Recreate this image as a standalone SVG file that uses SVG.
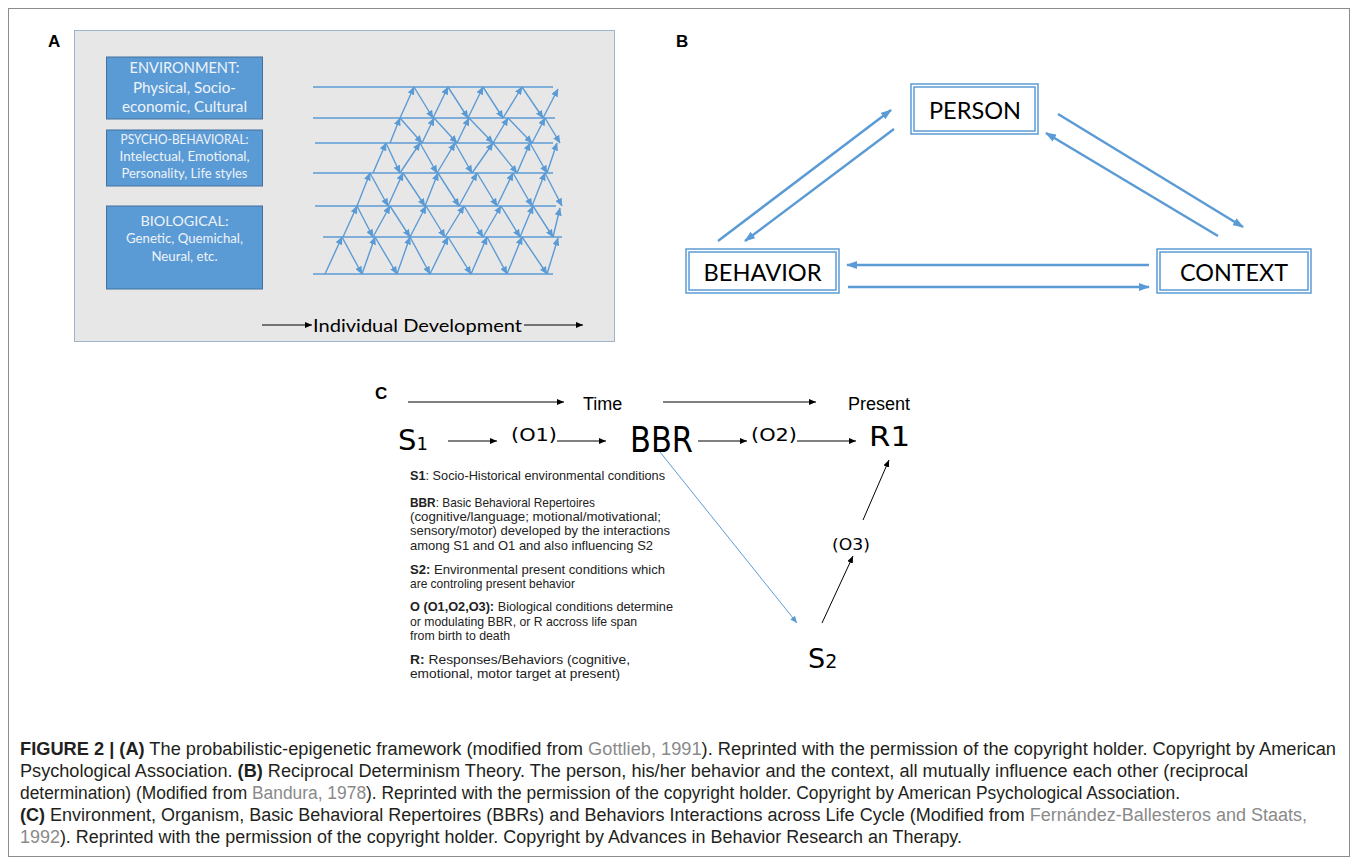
<svg xmlns="http://www.w3.org/2000/svg" width="1357" height="864" viewBox="0 0 1357 864">
<defs>
<marker id="ahL" markerUnits="userSpaceOnUse" markerWidth="8" markerHeight="7" refX="7.5" refY="3.5" orient="auto"><path d="M0,0 L8,3.5 L0,7 z" fill="#5b9bd5"/></marker>
<marker id="ahB" markerUnits="userSpaceOnUse" markerWidth="11" markerHeight="8" refX="10" refY="4" orient="auto"><path d="M0,0 L11,4 L0,8 z" fill="#5b9bd5"/></marker>
<marker id="ahK" markerUnits="userSpaceOnUse" markerWidth="7" markerHeight="6" refX="7" refY="3" orient="auto"><path d="M0,0 L7,3 L0,6 z" fill="#000"/></marker>
<marker id="ahT" markerUnits="userSpaceOnUse" markerWidth="7" markerHeight="6" refX="7" refY="3" orient="auto"><path d="M0,0 L7,3 L0,6 z" fill="#5b9bd5"/></marker>
</defs>
<style>
.lbl{font-family:"Liberation Sans",Arial,sans-serif;font-weight:bold;font-size:17px;fill:#000}
.abox{fill:#5b9bd5;stroke:#41719c;stroke-width:1}
.atx{font-family:Lato,"Open Sans",sans-serif;fill:#eef3f9;text-anchor:middle}
.lat{stroke:#5b9bd5;stroke-width:1.4;fill:none}
.lata{stroke:#5b9bd5;stroke-width:1.4;marker-end:url(#ahL)}
.bbox{fill:#fff;stroke:#5b9bd5;stroke-width:1.5}
.btx{font-family:Lato,"Open Sans",sans-serif;font-size:24px;fill:#000;text-anchor:middle}
.barr{stroke:#5b9bd5;stroke-width:2.5;marker-end:url(#ahB)}
.karr{stroke:#000;stroke-width:1;marker-end:url(#ahK)}
.ctx{font-family:"Liberation Sans",Arial,sans-serif;fill:#000}
.cv{font-family:"DejaVu Sans",Verdana,sans-serif;fill:#000}
.leg{font-family:"Liberation Sans",Arial,sans-serif;font-size:13px;fill:#222}
.cap{font-family:"Liberation Sans",Arial,sans-serif;font-size:18px;fill:#231f20}
.lnk{fill:#8a8a8a}
</style>
<rect x="0" y="0" width="1357" height="864" fill="#fff"/>
<rect x="8.5" y="8.5" width="1341" height="848" fill="none" stroke="#8c8c8c" stroke-width="1"/>

<!-- Panel A -->
<g id="panelA">
<text class="lbl" x="48" y="47">A</text>
<rect x="74.5" y="30.5" width="540" height="311" fill="#e8e7e7" stroke="#9fb3cc" stroke-width="1"/>
</g>
<g id="env">
<rect class="abox" x="106.5" y="57" width="156" height="62"/>
<text class="atx" x="184.5" y="73.3" font-size="15.5" textLength="110" lengthAdjust="spacingAndGlyphs">ENVIRONMENT:</text>
<text class="atx" x="184.5" y="92.7" font-size="15.5" textLength="103" lengthAdjust="spacingAndGlyphs">Physical, Socio-</text>
<text class="atx" x="184.5" y="112" font-size="15.5" textLength="125" lengthAdjust="spacingAndGlyphs">economic, Cultural</text>
</g>
<g id="psycho">
<rect class="abox" x="106.5" y="130" width="156" height="56"/>
<text class="atx" x="184.5" y="144" font-size="12.5" textLength="128" lengthAdjust="spacingAndGlyphs">PSYCHO-BEHAVIORAL:</text>
<text class="atx" x="184.5" y="161.3" font-size="12.5" textLength="130" lengthAdjust="spacingAndGlyphs">Intelectual, Emotional,</text>
<text class="atx" x="184.5" y="178.3" font-size="12.5" textLength="126" lengthAdjust="spacingAndGlyphs">Personality, Life styles</text>
</g>
<g id="bio">
<rect class="abox" x="106.5" y="206" width="156" height="83"/>
<text class="atx" x="184.5" y="225.7" font-size="14" textLength="88" lengthAdjust="spacingAndGlyphs">BIOLOGICAL:</text>
<text class="atx" x="184.5" y="243.3" font-size="12.5" textLength="117" lengthAdjust="spacingAndGlyphs">Genetic, Quemichal,</text>
<text class="atx" x="184.5" y="260.7" font-size="12.5" textLength="66" lengthAdjust="spacingAndGlyphs">Neural, etc.</text>
</g>
<g id="lattice">
<line class="lat" x1="313" y1="87" x2="553" y2="87"/>
<line class="lat" x1="313" y1="118" x2="555" y2="118"/>
<line class="lat" x1="315" y1="143" x2="553" y2="143"/>
<line class="lat" x1="313" y1="173" x2="553" y2="173"/>
<line class="lat" x1="315" y1="206" x2="556" y2="206"/>
<line class="lat" x1="323" y1="237" x2="562" y2="237"/>
<line class="lat" x1="313" y1="274" x2="553" y2="274"/>
<!-- row 1 -->
<line class="lata" x1="400" y1="118" x2="414" y2="87"/>
<line class="lata" x1="414" y1="87" x2="433" y2="118"/>
<line class="lata" x1="433" y1="118" x2="448" y2="87"/>
<line class="lata" x1="448" y1="87" x2="468" y2="118"/>
<line class="lata" x1="468" y1="118" x2="483" y2="87"/>
<line class="lata" x1="483" y1="87" x2="503" y2="118"/>
<line class="lata" x1="503" y1="118" x2="522" y2="87"/>
<line class="lata" x1="522" y1="87" x2="543" y2="118"/>
<line class="lata" x1="543" y1="118" x2="558" y2="89"/>
<!-- row 2 -->
<line class="lata" x1="390" y1="143" x2="400" y2="118"/>
<line class="lata" x1="400" y1="118" x2="422" y2="143"/>
<line class="lata" x1="422" y1="143" x2="434" y2="118"/>
<line class="lata" x1="434" y1="118" x2="457" y2="143"/>
<line class="lata" x1="457" y1="143" x2="469" y2="118"/>
<line class="lata" x1="469" y1="118" x2="493" y2="143"/>
<line class="lata" x1="493" y1="143" x2="508" y2="118"/>
<line class="lata" x1="508" y1="118" x2="532" y2="143"/>
<line class="lata" x1="532" y1="143" x2="545" y2="118"/>
<line class="lata" x1="545" y1="118" x2="560" y2="143"/>
<!-- row 3 -->
<line class="lata" x1="373" y1="173" x2="386" y2="143"/>
<line class="lata" x1="386" y1="143" x2="400" y2="173"/>
<line class="lata" x1="400" y1="173" x2="420" y2="143"/>
<line class="lata" x1="420" y1="143" x2="437" y2="173"/>
<line class="lata" x1="437" y1="173" x2="455" y2="143"/>
<line class="lata" x1="455" y1="143" x2="472" y2="173"/>
<line class="lata" x1="472" y1="173" x2="493" y2="143"/>
<line class="lata" x1="493" y1="143" x2="517" y2="173"/>
<line class="lata" x1="517" y1="173" x2="530" y2="143"/>
<line class="lata" x1="530" y1="143" x2="547" y2="173"/>
<line class="lata" x1="547" y1="173" x2="557" y2="143"/>
<!-- row 4 -->
<line class="lata" x1="357" y1="206" x2="370" y2="173"/>
<line class="lata" x1="370" y1="173" x2="388" y2="206"/>
<line class="lata" x1="388" y1="206" x2="403" y2="173"/>
<line class="lata" x1="403" y1="173" x2="425" y2="206"/>
<line class="lata" x1="425" y1="206" x2="438" y2="173"/>
<line class="lata" x1="438" y1="173" x2="459" y2="206"/>
<line class="lata" x1="459" y1="206" x2="477" y2="173"/>
<line class="lata" x1="477" y1="173" x2="497" y2="206"/>
<line class="lata" x1="497" y1="206" x2="513" y2="173"/>
<line class="lata" x1="513" y1="173" x2="532" y2="206"/>
<line class="lata" x1="532" y1="206" x2="545" y2="173"/>
<line class="lata" x1="545" y1="173" x2="562" y2="206"/>
<!-- row 5 -->
<line class="lata" x1="343" y1="237" x2="357" y2="206"/>
<line class="lata" x1="357" y1="206" x2="373" y2="237"/>
<line class="lata" x1="373" y1="237" x2="390" y2="206"/>
<line class="lata" x1="390" y1="206" x2="410" y2="237"/>
<line class="lata" x1="410" y1="237" x2="426" y2="206"/>
<line class="lata" x1="426" y1="206" x2="445" y2="237"/>
<line class="lata" x1="445" y1="237" x2="464" y2="206"/>
<line class="lata" x1="464" y1="206" x2="483" y2="237"/>
<line class="lata" x1="483" y1="237" x2="501" y2="206"/>
<line class="lata" x1="501" y1="206" x2="520" y2="237"/>
<line class="lata" x1="520" y1="237" x2="533" y2="206"/>
<line class="lata" x1="533" y1="206" x2="553" y2="237"/>
<line class="lata" x1="553" y1="237" x2="560" y2="208"/>
<!-- row 6 -->
<line class="lata" x1="325" y1="274" x2="342" y2="237"/>
<line class="lata" x1="342" y1="237" x2="362" y2="274"/>
<line class="lata" x1="362" y1="274" x2="375" y2="237"/>
<line class="lata" x1="375" y1="237" x2="397" y2="274"/>
<line class="lata" x1="397" y1="274" x2="410" y2="237"/>
<line class="lata" x1="410" y1="237" x2="430" y2="274"/>
<line class="lata" x1="430" y1="274" x2="448" y2="237"/>
<line class="lata" x1="448" y1="237" x2="471" y2="274"/>
<line class="lata" x1="471" y1="274" x2="487" y2="237"/>
<line class="lata" x1="487" y1="237" x2="507" y2="274"/>
<line class="lata" x1="507" y1="274" x2="522" y2="237"/>
<line class="lata" x1="522" y1="237" x2="547" y2="274"/>
<line class="lata" x1="547" y1="274" x2="558" y2="238"/>
</g>
<g id="devAxis">
<line class="karr" x1="262" y1="325" x2="312" y2="325"/>
<text x="313" y="331.5" font-family="Lato,'Open Sans',sans-serif" font-size="17" fill="#000" textLength="209" lengthAdjust="spacingAndGlyphs">Individual Development</text>
<line class="karr" x1="524" y1="325" x2="583" y2="325"/>
</g>

<!-- Panel B -->
<g id="panelB"><text class="lbl" x="676" y="47">B</text></g>
<g id="person">
<rect class="bbox" x="911" y="84" width="127" height="50"/>
<rect class="bbox" x="914" y="87" width="121" height="44"/>
<text class="btx" x="975" y="118.5" textLength="92" lengthAdjust="spacingAndGlyphs">PERSON</text>
</g>
<g id="behavior">
<rect class="bbox" x="686" y="249" width="153" height="44"/>
<rect class="bbox" x="689" y="252" width="147" height="38"/>
<text class="btx" x="762.5" y="280.5" textLength="118" lengthAdjust="spacingAndGlyphs">BEHAVIOR</text>
</g>
<g id="context">
<rect class="bbox" x="1157" y="249" width="154" height="44"/>
<rect class="bbox" x="1160" y="252" width="148" height="38"/>
<text class="btx" x="1234" y="280.5" textLength="108" lengthAdjust="spacingAndGlyphs">CONTEXT</text>
</g>
<g id="connectorsB">
<line class="barr" x1="718" y1="241" x2="891" y2="110"/>
<line class="barr" x1="894" y1="129" x2="745" y2="241"/>
<line class="barr" x1="1058" y1="114" x2="1243" y2="227"/>
<line class="barr" x1="1218" y1="236" x2="1046" y2="133"/>
<line class="barr" x1="1149" y1="265" x2="847" y2="265"/>
<line class="barr" x1="848" y1="287" x2="1149" y2="287"/>
</g>

<!-- Panel C -->
<g id="panelC">
<text class="lbl" x="375" y="399">C</text>
<text class="ctx" x="583" y="410" font-size="18">Time</text>
<text class="ctx" x="848" y="410" font-size="18">Present</text>
</g>
<g id="S1"><text class="cv" x="398" y="450" font-size="29">S<tspan font-size="18">1</tspan></text></g>
<g id="O1"><text class="cv" x="511" y="441" font-size="17" textLength="46" lengthAdjust="spacingAndGlyphs">(O1)</text></g>
<g id="BBR"><text class="cv" x="630" y="452" font-size="35" textLength="63" lengthAdjust="spacingAndGlyphs">BBR</text></g>
<g id="O2"><text class="cv" x="751" y="441" font-size="17" textLength="46" lengthAdjust="spacingAndGlyphs">(O2)</text></g>
<g id="R1"><text class="cv" x="869" y="446" font-size="27" textLength="41" lengthAdjust="spacingAndGlyphs">R1</text></g>
<g id="O3"><text class="cv" x="832" y="550" font-size="16" textLength="38" lengthAdjust="spacingAndGlyphs">(O3)</text></g>
<g id="S2"><text class="cv" x="808" y="668" font-size="27">S<tspan font-size="19">2</tspan></text></g>
<g id="connectorsC">
<line class="karr" x1="408" y1="402" x2="564" y2="402"/>
<line class="karr" x1="663" y1="402" x2="816" y2="402"/>
<line class="karr" x1="448" y1="441" x2="497" y2="441"/>
<line class="karr" x1="557" y1="441" x2="606" y2="441"/>
<line class="karr" x1="698" y1="441" x2="747" y2="441"/>
<line class="karr" x1="797" y1="441" x2="856" y2="441"/>
<line x1="660" y1="452" x2="797" y2="623" stroke="#5b9bd5" stroke-width="1" marker-end="url(#ahT)"/>
<line class="karr" x1="822" y1="623" x2="853" y2="556"/>
<line class="karr" x1="863" y1="520" x2="889" y2="460"/>
</g>
<g id="legend">
<text class="leg" x="410" y="479.5" textLength="255" lengthAdjust="spacingAndGlyphs"><tspan font-weight="bold">S1</tspan>: Socio-Historical environmental  conditions</text>
<text class="leg" x="410" y="507" textLength="185" lengthAdjust="spacingAndGlyphs"><tspan font-weight="bold">BBR</tspan>: Basic Behavioral Repertoires</text>
<text class="leg" x="410" y="521" textLength="251" lengthAdjust="spacingAndGlyphs">(cognitive/language;  motional/motivational;</text>
<text class="leg" x="410" y="535" textLength="260" lengthAdjust="spacingAndGlyphs">sensory/motor) developed by the interactions</text>
<text class="leg" x="410" y="549.5" textLength="243" lengthAdjust="spacingAndGlyphs">among  S1  and  O1  and  also  influencing  S2</text>
<text class="leg" x="410" y="573.5" textLength="255" lengthAdjust="spacingAndGlyphs"><tspan font-weight="bold">S2:</tspan> Environmental  present  conditions  which</text>
<text class="leg" x="410" y="588" textLength="165" lengthAdjust="spacingAndGlyphs">are controling present behavior</text>
<text class="leg" x="410" y="611" textLength="263" lengthAdjust="spacingAndGlyphs"><tspan font-weight="bold">O (O1,O2,O3):</tspan> Biological conditions determine</text>
<text class="leg" x="410" y="626" textLength="227" lengthAdjust="spacingAndGlyphs">or modulating  BBR, or R accross life span</text>
<text class="leg" x="410" y="640" textLength="100" lengthAdjust="spacingAndGlyphs">from birth to death</text>
<text class="leg" x="410" y="663.5" textLength="220" lengthAdjust="spacingAndGlyphs"><tspan font-weight="bold">R:</tspan>  Responses/Behaviors (cognitive,</text>
<text class="leg" x="410" y="678" textLength="210" lengthAdjust="spacingAndGlyphs">emotional,  motor target at present)</text>
</g>

<!-- Caption -->
<g id="caption">
<text class="cap" x="20" y="755" textLength="1316" lengthAdjust="spacingAndGlyphs"><tspan font-weight="bold">FIGURE 2 | (A)</tspan> The probabilistic-epigenetic framework (modified from <tspan class="lnk">Gottlieb, 1991</tspan>). Reprinted with the permission of the copyright holder. Copyright by American</text>
<text class="cap" x="20" y="777" textLength="1228" lengthAdjust="spacingAndGlyphs">Psychological Association. <tspan font-weight="bold">(B)</tspan> Reciprocal Determinism Theory. The person, his/her behavior and the context, all mutually influence each other (reciprocal</text>
<text class="cap" x="20" y="799" textLength="1160" lengthAdjust="spacingAndGlyphs">determination) (Modified from <tspan class="lnk">Bandura, 1978</tspan>). Reprinted with the permission of the copyright holder. Copyright by American Psychological Association.</text>
<text class="cap" x="20" y="821" textLength="1287" lengthAdjust="spacingAndGlyphs"><tspan font-weight="bold">(C)</tspan> Environment, Organism, Basic Behavioral Repertoires (BBRs) and Behaviors Interactions across Life Cycle (Modified from <tspan class="lnk">Fernández-Ballesteros and Staats,</tspan></text>
<text class="cap" x="20" y="843" textLength="942" lengthAdjust="spacingAndGlyphs"><tspan class="lnk">1992</tspan>). Reprinted with the permission of the copyright holder. Copyright by Advances in Behavior Research an Therapy.</text>
</g>
</svg>
